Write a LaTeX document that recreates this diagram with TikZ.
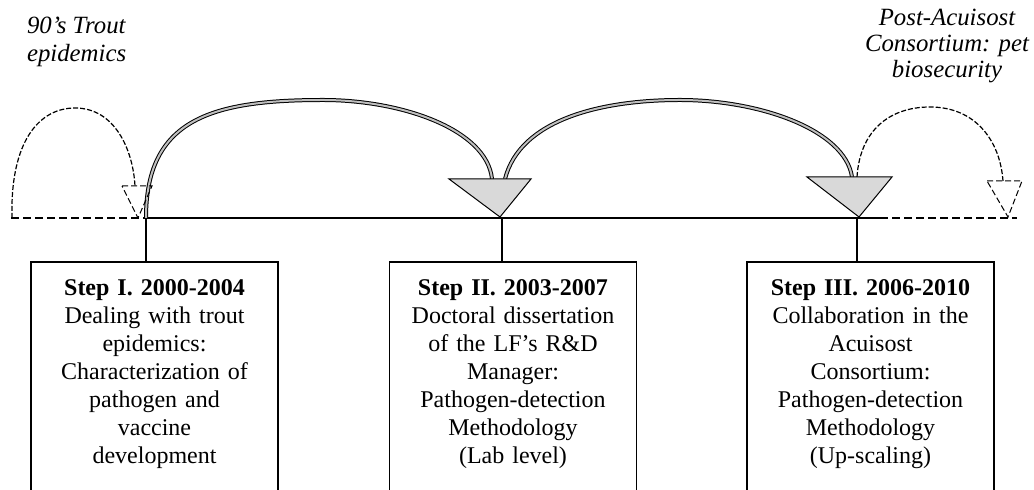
\documentclass[tikz,border=0pt]{standalone}
\usepackage{fontspec}
\setmainfont{Liberation Serif}
\usetikzlibrary{positioning}
\begin{document}
\begin{tikzpicture}[x=0.5pt,y=-0.5pt,
  every node/.style={inner sep=0pt, outer sep=0pt},
  stepframe/.style={draw, line width=0.6pt, minimum width=123.5pt, minimum height=130pt, anchor=north},
  steptext/.style={align=center, text width=122pt, font=\fontsize{12pt}{14pt}\selectfont},
  era/.style={font=\fontsize{12.4pt}{14pt}\selectfont\itshape},
  axis/.style={line width=0.55pt},
  axisext/.style={line width=0.55pt, dash pattern=on 4pt off 2pt},
  leap/.style={draw=black, line width=0.5pt, double=black!25, double distance=1pt},
  ghostleap/.style={line width=0.6pt, dash pattern=on 2.5pt off 1pt},
  marker/.style={draw, line width=0.5pt, fill=black!15, line join=miter},
  ghostmarker/.style={draw, line width=0.5pt, dash pattern=on 3pt off 1.5pt, line join=miter},
]
\clip (0,0) rectangle (1034,490);

% timeline points
\coordinate (tl0) at (11,218);
\coordinate (tlA) at (146,218);
\coordinate (tlB) at (502,218);
\coordinate (tlC) at (857,218);
\coordinate (tlD) at (880,218);
\coordinate (tlE) at (1017,218);

% step boxes (open at the bottom edge)
\node[stepframe] (s1) at (154.5,262) {};
\node[stepframe] (s2) at (513,262) {};
\node[stepframe] (s3) at (870.5,262) {};

\node[steptext, below=7.2pt of s1.north] (t1)
  {\strut\textbf{Step I. 2000-2004}\\Dealing with trout\\epidemics:\\Characterization of\\pathogen and\\vaccine\\development};
\node[steptext, below=7.2pt of s2.north] (t2)
  {\strut\textbf{Step II. 2003-2007}\\Doctoral dissertation\\of the LF’s R\&D\\Manager:\\Pathogen-detection\\Methodology\\(Lab level)};
\node[steptext, below=7.2pt of s3.north] (t3)
  {\strut\textbf{Step III. 2006-2010}\\Collaboration in the\\Acuisost\\Consortium:\\Pathogen-detection\\Methodology\\(Up-scaling)};

% era labels
\node[era, anchor=north west, align=left] (pre) at (27,14.4) {\strut 90’s Trout\\epidemics};
\node[era, anchor=north, align=center, font=\fontsize{12.4pt}{13pt}\selectfont\itshape] (post) at (947,7)
  {\strut Post-Acuisost\\Consortium: pet\\biosecurity};

% timeline
\draw[axisext] (tl0) -- (tlA);
\draw[axis] (tlA) -- (tlD);
\draw[axisext] (tlD) -- (tlE);

% drops to the boxes
\draw[axis] (tlA) -- (tlA |- s1.north);
\draw[axis] (tlB) -- (tlB |- s2.north);
\draw[axis] (tlC) -- (tlC |- s3.north);

% marker corners
\coordinate (m2l) at (449,179); \coordinate (m2r) at (531,179); \coordinate (m2t) at (500,217);
\coordinate (m3l) at (807,177); \coordinate (m3r) at (892,177); \coordinate (m3t) at (859,217);
\coordinate (g1l) at (122,186); \coordinate (g1r) at (152,186); \coordinate (g1t) at (138,218);
\coordinate (g4l) at (987,181); \coordinate (g4r) at (1022,181); \coordinate (g4t) at (1008,217);

% leap ends
\coordinate (a1e) at (492,179);
\coordinate (a2s) at (505,179);
\coordinate (a2e) at (852,177);
\coordinate (g0s) at (12,218);
\coordinate (g0e) at (135,186);
\coordinate (g4s) at (857,177);
\coordinate (g4e) at (1003,181);

% dashed leaps before and after
\draw[ghostleap] (g0s) .. controls (10,140) and (40,108) .. (75,108)
  .. controls (115,108) and (133,150) .. (g0e);
\draw[ghostleap] (g4s) .. controls (860,130) and (890,107) .. (930,107)
  .. controls (975,107) and (1000,140) .. (g4e);

% solid leaps
\draw[leap] (tlA) .. controls (146,120) and (210,100) .. (323,100)
  .. controls (403,100) and (487,130) .. (a1e);
\draw[leap] (a2s) .. controls (520,120) and (600,100) .. (680,100)
  .. controls (760,100) and (845,130) .. (a2e);

% markers
\draw[ghostmarker] (g1l) -- (g1r) -- (g1t) -- cycle;
\draw[ghostmarker] (g4l) -- (g4r) -- (g4t) -- cycle;
\draw[marker] (m2l) -- (m2r) -- (m2t) -- cycle;
\draw[marker] (m3l) -- (m3r) -- (m3t) -- cycle;
\end{tikzpicture}
\end{document}
